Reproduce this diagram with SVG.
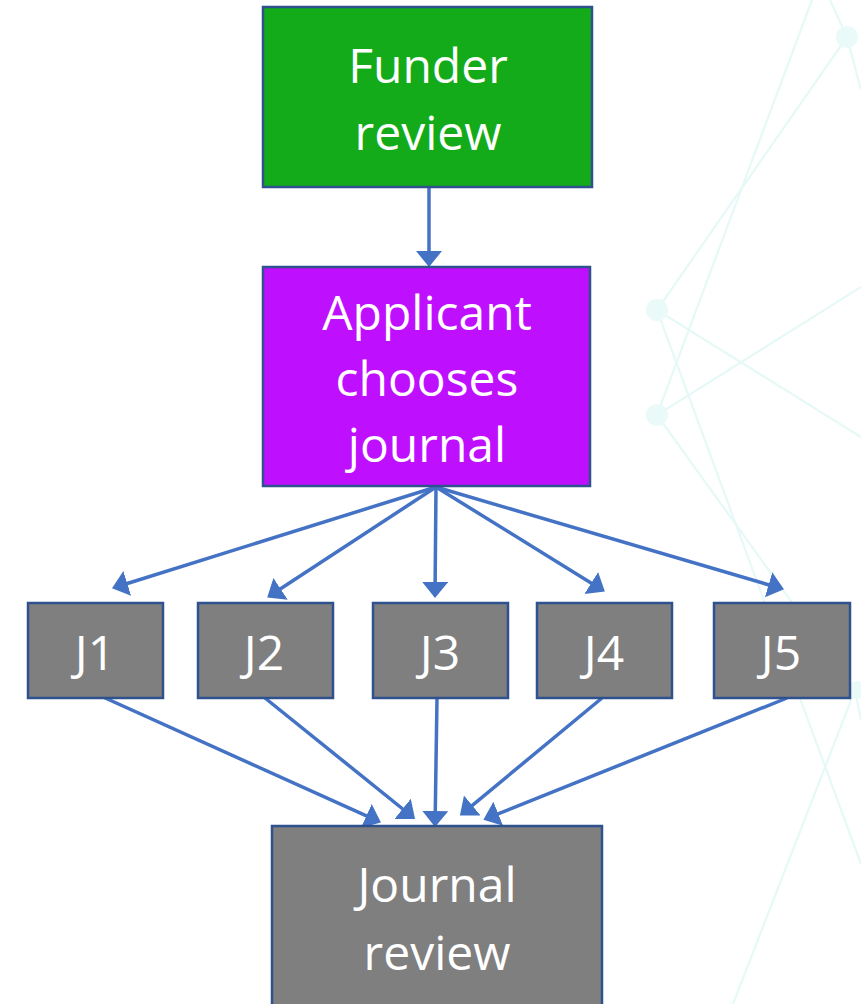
<svg xmlns="http://www.w3.org/2000/svg" width="861" height="1004" viewBox="0 0 861 1004">
  <style>
    .box { stroke: #2F528F; stroke-width: 2.5; }
    .funder { fill: #13AB1A; }
    .choose { fill: #BF0FFF; }
    .journal { fill: #7F7F7F; }
    .label { font-family: "Open Sans", "Liberation Sans", sans-serif; font-size: 48px; fill: #FFFFFF; text-anchor: middle; }
    .conn { stroke: #4472C4; stroke-width: 3.5; fill: none; marker-end: url(#arrow); }
    .net { stroke: #E6F9F7; stroke-width: 2.2; fill: none; }
    .dot { fill: #E9FAF9; }
  </style>
  <defs>
    <marker id="arrow" markerUnits="userSpaceOnUse" markerWidth="17" markerHeight="27" refX="5" refY="13" orient="auto" viewBox="0 0 17 27">
      <path d="M0,0 L16,13 L0,26 Z" fill="#4472C4"/>
    </marker>
  </defs>

  <rect width="861" height="1004" fill="#FFFFFF"/>

  <!-- faint network pattern in the background -->
  <g id="backdrop">
    <line class="net" x1="812" y1="0" x2="657" y2="415"/>
    <line class="net" x1="657" y1="415" x2="861" y2="287"/>
    <line class="net" x1="657" y1="310" x2="847" y2="37"/>
    <line class="net" x1="847" y1="37" x2="830" y2="0"/>
    <line class="net" x1="847" y1="37" x2="861" y2="90"/>
    <line class="net" x1="657" y1="310" x2="861" y2="437"/>
    <line class="net" x1="657" y1="310" x2="861" y2="864"/>
    <line class="net" x1="657" y1="415" x2="855" y2="690"/>
    <line class="net" x1="855" y1="690" x2="733" y2="1004"/>
    <line class="net" x1="855" y1="690" x2="861" y2="720"/>
    <circle class="dot" cx="847" cy="37" r="11"/>
    <circle class="dot" cx="657" cy="310" r="11"/>
    <circle class="dot" cx="657" cy="415" r="11"/>
    <circle class="dot" cx="857" cy="690" r="9"/>
  </g>

  <g id="connectors">
    <line class="conn" x1="429" y1="187" x2="429" y2="256"/>
    <line class="conn" x1="436" y1="487" x2="122.5" y2="585"/>
    <line class="conn" x1="436" y1="487" x2="276.4" y2="591.5"/>
    <line class="conn" x1="436" y1="487" x2="435.1" y2="587"/>
    <line class="conn" x1="436" y1="487" x2="595.5" y2="585.7"/>
    <line class="conn" x1="436" y1="487" x2="773.4" y2="586.2"/>
    <line class="conn" x1="103" y1="697" x2="370.9" y2="817.9"/>
    <line class="conn" x1="265" y1="698" x2="406.5" y2="812"/>
    <line class="conn" x1="437" y1="698" x2="435.2" y2="816"/>
    <line class="conn" x1="602" y1="698" x2="468.4" y2="808.6"/>
    <line class="conn" x1="787" y1="698" x2="493.6" y2="815.6"/>
  </g>

  <g id="funder-review">
    <rect class="box funder" x="263" y="7" width="329" height="180"/>
    <text class="label" x="428" y="83">Funder</text>
    <text class="label" x="428" y="150">review</text>
  </g>

  <g id="applicant-chooses">
    <rect class="box choose" x="263" y="267" width="327" height="219"/>
    <text class="label" x="427" y="330">Applicant</text>
    <text class="label" x="427" y="396">chooses</text>
    <text class="label" x="427" y="462">journal</text>
  </g>

  <g id="j1">
    <rect class="box journal" x="28" y="603" width="135" height="95"/>
    <text class="label" x="95" y="670">J1</text>
  </g>
  <g id="j2">
    <rect class="box journal" x="198" y="603" width="135" height="95"/>
    <text class="label" x="264" y="670">J2</text>
  </g>
  <g id="j3">
    <rect class="box journal" x="373" y="603" width="135" height="95"/>
    <text class="label" x="440" y="670">J3</text>
  </g>
  <g id="j4">
    <rect class="box journal" x="537" y="603" width="135" height="95"/>
    <text class="label" x="604" y="670">J4</text>
  </g>
  <g id="j5">
    <rect class="box journal" x="714" y="603" width="136" height="95"/>
    <text class="label" x="781" y="670">J5</text>
  </g>

  <g id="journal-review">
    <rect class="box journal" x="272" y="826" width="330" height="190"/>
    <text class="label" x="437" y="902">Journal</text>
    <text class="label" x="437" y="970">review</text>
  </g>
</svg>
